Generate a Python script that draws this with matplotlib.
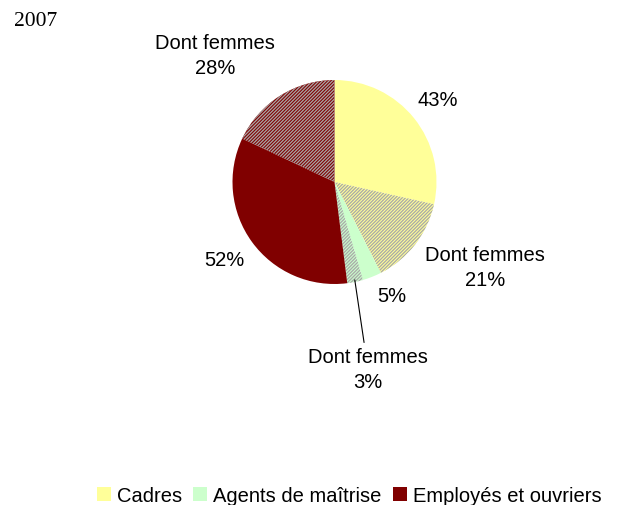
import numpy as np
import matplotlib
matplotlib.use("Agg")
import matplotlib.pyplot as plt

# ---- data ----
year_title = "2007"
categories = ["Cadres", "Agents de maîtrise", "Employés et ouvriers"]
category_colors = ["#FFFF99", "#CCFFCC", "#800000"]
# pie slices: (group w/o women, dont femmes) for each category
slice_values = [28.5, 14.0, 3.0, 2.5, 34.0, 18.0]
slice_labels = ["43%", "Dont femmes\n21%", "5%", "Dont femmes\n3%", "52%", "Dont femmes\n28%"]

W, H = 629, 506
plt.rcParams["font.family"] = ["Liberation Sans", "DejaVu Sans"]
plt.rcParams["hatch.linewidth"] = 0.9

fig = plt.figure(figsize=(W / 100, H / 100), dpi=100)
ax = fig.add_axes([0, 0, 1, 1])

cx, cy, R = 334.5, H - 183, 102
slice_colors = [c for c in category_colors for _ in range(2)]
wedges, _ = ax.pie(slice_values, colors=slice_colors, startangle=90, counterclock=False,
                   center=(cx, cy), radius=R, wedgeprops=dict(linewidth=0), frame=True)
ax.set_xlim(0, W)
ax.set_ylim(0, H)
ax.set_aspect("equal")
ax.axis("off")
for i, w in enumerate(wedges):
    if i % 2 == 1:
        w.set_hatch("//////////")
        w.set_edgecolor("#a8a8a8")
        w.set_linewidth(0)

# label positions (image coords of label centres)
label_pos = [(438, 100), (485, 268), (392, 297), (368, 370), (224, 260), (215, 56)]
for i, (lab, (x, y)) in enumerate(zip(slice_labels, label_pos)):
    if i == 3:
        w = wedges[i]
        th = np.deg2rad((w.theta1 + w.theta2) / 2)
        ex, ey = cx + R * 0.98 * np.cos(th), cy + R * 0.98 * np.sin(th)
        ax.annotate(lab, xy=(ex, ey), xytext=(x, H - y), ha="center", va="center",
                    fontsize=14.5, linespacing=1.45,
                    arrowprops=dict(arrowstyle="-", lw=0.8, color="black",
                                    shrinkA=1, shrinkB=0))
    else:
        ax.text(x, H - y, lab, ha="center", va="center", fontsize=14.5, linespacing=1.45)

fig.text(14 / W, 1 - 22 / H, year_title, family=["Liberation Serif", "DejaVu Serif"],
         fontsize=15.5, ha="left", va="center")

leg = fig.legend(handles=[wedges[0], wedges[2], wedges[4]], labels=categories,
                 ncol=3, loc="lower left", bbox_to_anchor=(97 / W, 0 / H),
                 frameon=False, fontsize=14.5, handlelength=0.7, handleheight=0.75,
                 handletextpad=0.3, columnspacing=0.55, borderpad=0.0, borderaxespad=0.0)

fig.savefig("out.png", dpi=100)
